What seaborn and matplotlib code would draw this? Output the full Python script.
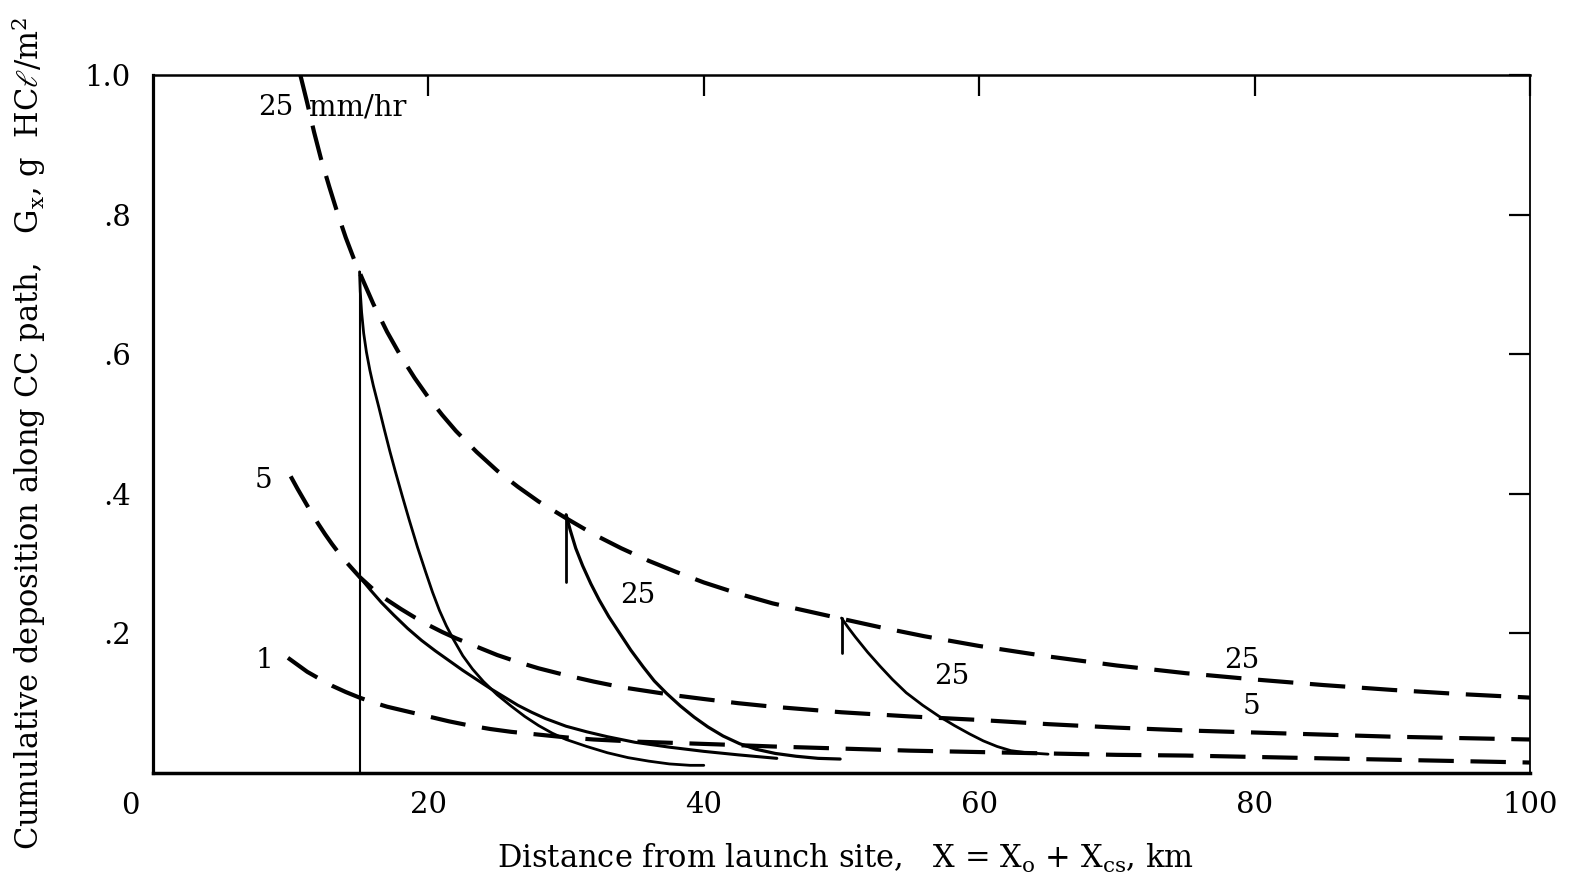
import matplotlib
matplotlib.use("Agg")
import matplotlib.pyplot as plt
import seaborn as sns

# Envelope of cumulative deposition (dashed), by rainfall rate, g HCl/m^2 vs km
x_env25 = [10.7, 11.2, 11.7, 12.2, 12.8, 13.4, 14.0, 14.6, 15.2, 16.0, 17.0, 18.0, 19.0, 20.0,
           21.0, 22.0, 23.5, 25.0, 26.5, 28.0, 30.0, 32.0, 34.0, 36.0, 38.0, 40.0, 42.5, 45.0,
           47.5, 50.0, 53.0, 56.0, 60.0, 65.0, 70.0, 75.0, 80.0, 85.0, 90.0, 95.0, 100.0]
g_env25 = [1.0, 0.96, 0.918, 0.88, 0.84, 0.802, 0.767, 0.736, 0.708, 0.672, 0.632, 0.597, 0.566,
           0.538, 0.513, 0.49, 0.46, 0.433, 0.41, 0.389, 0.365, 0.342, 0.322, 0.304, 0.288, 0.273,
           0.257, 0.243, 0.232, 0.221, 0.208, 0.196, 0.182, 0.167, 0.154, 0.143, 0.134, 0.126,
           0.119, 0.113, 0.108]

x_env5 = [10.0, 10.5, 11.0, 11.5, 12.0, 12.5, 13.0, 13.5, 14.0, 14.5, 15.0, 16.0, 17.0, 18.0,
          19.0, 20.0, 21.0, 22.0, 23.5, 25.0, 26.5, 28.0, 30.0, 32.0, 34.0, 36.0, 38.0, 40.0,
          42.5, 45.0, 47.5, 50.0, 55.0, 60.0, 65.0, 70.0, 75.0, 80.0, 85.0, 90.0, 95.0, 100.0]
g_env5 = [0.425, 0.407, 0.39, 0.373, 0.357, 0.342, 0.328, 0.315, 0.303, 0.292, 0.281, 0.263,
          0.248, 0.235, 0.223, 0.212, 0.202, 0.193, 0.181, 0.169, 0.159, 0.15, 0.14, 0.131,
          0.123, 0.117, 0.111, 0.106, 0.1, 0.095, 0.091, 0.087, 0.081, 0.076, 0.07, 0.065,
          0.061, 0.058, 0.055, 0.052, 0.05, 0.048]

x_env1 = [9.8, 10.5, 11.2, 12.0, 13.0, 14.0, 15.0, 16.0, 17.0, 18.5, 20.0, 21.5, 23.0, 24.5,
          26.0, 28.0, 30.0, 32.0, 35.0, 38.0, 41.0, 45.0, 50.0, 55.0, 60.0, 65.0, 70.0, 75.0,
          80.0, 85.0, 90.0, 95.0, 100.0]
g_env1 = [0.165, 0.155, 0.145, 0.136, 0.125, 0.116, 0.108, 0.101, 0.095, 0.088, 0.081, 0.074,
          0.068, 0.063, 0.059, 0.055, 0.051, 0.048, 0.045, 0.043, 0.041, 0.038, 0.035, 0.032,
          0.03, 0.028, 0.026, 0.025, 0.023, 0.021, 0.019, 0.017, 0.015]

# Deposition after rain onset (solid curves)
x_rain15_25 = [15.0, 15.05, 15.15, 15.3, 15.5, 15.75, 16.0, 16.4, 16.8, 17.2, 17.6, 18.1, 18.6,
               19.2, 19.8, 20.3, 20.8, 21.3, 21.8, 22.5, 23.2, 24.0, 25.0, 26.0, 27.0, 28.0,
               29.0, 30.0, 31.5, 33.0, 34.5, 36.0, 37.5, 39.0, 40.0]
g_rain15_25 = [0.718, 0.69, 0.66, 0.63, 0.603, 0.577, 0.555, 0.524, 0.492, 0.461, 0.432, 0.397,
               0.363, 0.324, 0.288, 0.259, 0.233, 0.211, 0.192, 0.168, 0.149, 0.131, 0.112,
               0.096, 0.081, 0.068, 0.057, 0.048, 0.038, 0.029, 0.022, 0.017, 0.013, 0.011, 0.011]

x_rain15_5 = [15.0, 15.8, 16.6, 17.5, 18.5, 19.5, 20.5, 21.5, 22.5, 23.5, 24.5, 25.5, 26.5,
              27.5, 28.5, 30.0, 31.5, 33.0, 35.0, 37.5, 40.0, 42.5, 45.3]
g_rain15_5 = [0.281, 0.262, 0.244, 0.226, 0.207, 0.19, 0.175, 0.161, 0.147, 0.134, 0.121,
              0.109, 0.097, 0.087, 0.078, 0.067, 0.059, 0.052, 0.044, 0.037, 0.031, 0.026, 0.021]

x_rain30_25 = [30.0, 30.3, 30.7, 31.2, 31.8, 32.4, 33.1, 33.9, 34.7, 35.6, 36.4, 37.3, 38.3,
               39.3, 40.3, 41.4, 42.6, 43.8, 45.2, 46.7, 48.3, 49.9]
g_rain30_25 = [0.37, 0.348, 0.322, 0.297, 0.271, 0.248, 0.224, 0.2, 0.176, 0.152, 0.132, 0.114,
               0.096, 0.08, 0.066, 0.053, 0.042, 0.034, 0.028, 0.024, 0.021, 0.02]

x_rain50_25 = [50.0, 50.5, 51.0, 51.9, 52.8, 53.7, 54.7, 55.9, 57.1, 58.2, 59.3, 60.3, 61.3,
               62.3, 63.5, 65.0]
g_rain50_25 = [0.222, 0.208, 0.195, 0.173, 0.153, 0.134, 0.115, 0.097, 0.081, 0.068, 0.056,
               0.046, 0.038, 0.032, 0.029, 0.027]

# Rain-onset markers: distance, lower and upper value
onset_x = [15.0, 30.0, 50.0]
onset_lo = [0.0, 0.274, 0.172]
onset_hi = [0.718, 0.37, 0.222]

x_ticks = [20, 40, 60, 80, 100]
x_ticklabels = ["20", "40", "60", "80", "100"]
y_ticks = [0.2, 0.4, 0.6, 0.8, 1.0]
y_ticklabels = [".2", ".4", ".6", ".8", "1.0"]

sns.set_style("white")
plt.rcParams["font.family"] = ["DejaVu Serif", "DejaVu Sans"]
plt.rcParams["mathtext.fontset"] = "dejavuserif"

W, H = 1569, 886
fig = plt.figure(figsize=(W / 100, H / 100), dpi=100)
ax = fig.add_axes([153 / W, 1 - 773 / H, (1530 - 153) / W, (773 - 75) / H])

DASH = (0, (8.5, 4.0))


def draw(x, y, lw, ls="-"):
    sns.lineplot(x=x, y=y, ax=ax, color="black", estimator=None, sort=False,
                 legend=False, linewidth=lw, linestyle=ls)


draw(x_env25, g_env25, 3.0, DASH)
draw(x_env5, g_env5, 3.0, DASH)
draw(x_env1, g_env1, 3.0, DASH)

draw(x_rain15_25, g_rain15_25, 2.0)
draw(x_rain15_5, g_rain15_5, 2.2)
draw(x_rain30_25, g_rain30_25, 2.3)
draw(x_rain50_25, g_rain50_25, 2.0)

for xo, lo, hi in zip(onset_x, onset_lo, onset_hi):
    draw([xo, xo], [lo, hi], 1.5 if lo == 0 else 2.0)

ax.set_xlim(0, 100)
ax.set_ylim(0, 1.0)
ax.set_xticks(x_ticks)
ax.set_xticklabels(x_ticklabels)
ax.set_yticks(y_ticks)
ax.set_yticklabels(y_ticklabels)
ax.tick_params(axis="both", which="major", direction="in", length=15, width=1.6,
               color="black", labelsize=21, labelcolor="black", top=True, right=True)
ax.tick_params(axis="x", pad=13)
ax.tick_params(axis="y", pad=16)

for side, lw in {"left": 2.3, "bottom": 2.5, "top": 1.8, "right": 1.3}.items():
    ax.spines[side].set_visible(True)
    ax.spines[side].set_color("black")
    ax.spines[side].set_linewidth(lw)

ax.set_xlabel(r"Distance from launch site,   X = X$_{\rm o}$ + X$_{\rm cs}$, km",
              fontsize=22, color="black")
ax.xaxis.set_label_coords(0.5025, -0.098)
ax.set_ylabel(r"Cumulative deposition along CC path,   G$_{\rm x}$, g  HC$\ell$/m$^2$",
              fontsize=22, color="black")
ax.yaxis.set_label_coords(-0.076, 0.487)

# origin label shared by both axes
ax.text(-0.0167, -0.047, "0", transform=ax.transAxes, ha="center", va="center",
        fontsize=21, color="black")

# curve annotations
lab = dict(fontsize=20, color="black", ha="center", va="center")
ax.text(8.9, 0.953, "25", **lab)
ax.text(11.3, 0.953, "mm/hr", fontsize=21, color="black", ha="left", va="center")
ax.text(8.0, 0.419, "5", **lab)
ax.text(8.1, 0.161, "1", **lab)
ax.text(35.2, 0.254, "25", **lab)
ax.text(58.0, 0.138, "25", **lab)
ax.text(79.1, 0.161, "25", **lab)
ax.text(79.8, 0.095, "5", **lab)

fig.savefig("out.png", dpi=100, facecolor="white")
